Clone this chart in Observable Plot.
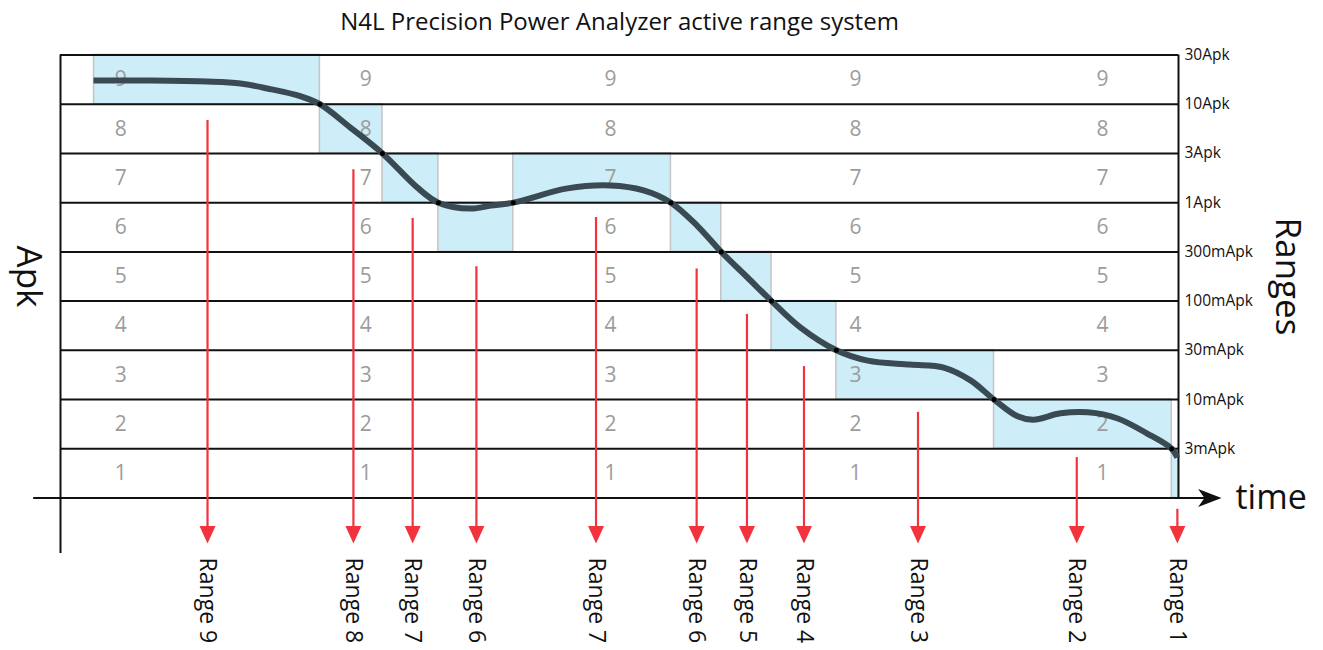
<!DOCTYPE html>
<html>
<head>
<meta charset="utf-8">
<script src="https://cdn.jsdelivr.net/npm/d3@7"></script>
<script src="https://cdn.jsdelivr.net/npm/@observablehq/plot@0.6"></script>
<style>
  html, body { margin: 0; padding: 0; background: #fff; }
  #chart svg { display: block; }
</style>
</head>
<body>
<div id="chart"></div>
<script>
// ---- data ----
const title = "N4L Precision Power Analyzer active range system";

// active range segments (time, range number)
const segStart = [3.0, 23.2, 28.8, 33.8, 40.5, 54.6, 59.1, 63.6, 69.4, 83.5, 99.4];
const segEnd   = [23.2, 28.8, 33.8, 40.5, 54.6, 59.1, 63.6, 69.4, 83.5, 99.4, 100];
const segRange = [9, 8, 7, 6, 7, 6, 5, 4, 3, 2, 1];

// signal curve (time, level on range scale)
const curveTime  = [2.95, 8.05, 13.15, 16.1, 18.5, 21.5, 23.2, 25.9, 28.8, 31.9, 33.8, 36.7, 38.5, 40.5, 45.35, 49.2, 52.15, 54.6, 57.0, 59.1, 61.45, 63.6, 66.2, 69.4, 72.2, 76.0, 79.0, 81.4, 83.5, 85.6, 87.0, 89.45, 91.9, 94.5, 97.2, 99.4, 99.9];
const curveLevel = [8.48, 8.48, 8.46, 8.42, 8.32, 8.16, 8.0, 7.53, 7.0, 6.31, 6.0, 5.88, 5.94, 6.0, 6.29, 6.35, 6.25, 6.0, 5.52, 5.0, 4.48, 4.0, 3.46, 3.0, 2.79, 2.71, 2.65, 2.39, 2.0, 1.66, 1.59, 1.72, 1.74, 1.62, 1.31, 1.0, 0.82];

// red arrows
const arrowTime  = [13.15, 26.2, 31.5, 37.2, 47.9, 56.9, 61.4, 66.5, 76.7, 90.9, 99.9];
const arrowTop   = [7.67, 6.67, 5.68, 4.70, 5.70, 4.65, 3.73, 2.67, 1.74, 0.82, -0.23];
const arrowLabel = ["Range 9", "Range 8", "Range 7", "Range 6", "Range 7", "Range 6", "Range 5", "Range 4", "Range 3", "Range 2", "Range 1"];

// range boundaries (right axis)
const boundaryLevel = [1, 2, 3, 4, 5, 6, 7, 8, 9];
const boundaryLabel = ["3mApk", "10mApk", "30mApk", "100mApk", "300mApk", "1Apk", "3Apk", "10Apk", "30Apk"];

// row numbers and the columns where they are repeated
const rowNumbers = [1, 2, 3, 4, 5, 6, 7, 8, 9];
const columnTime = [5.4, 27.3, 49.2, 71.1, 93.2];

// ---- derived tables ----
const segments = segRange.map((r, i) => ({x1: segStart[i], x2: segEnd[i], y1: r - 1, y2: r}));
const curve = curveTime.map((t, i) => ({t, v: curveLevel[i]}));
const crossings = segRange.slice(1).map((r, i) => ({t: segEnd[i], v: Math.min(r, segRange[i])}));
const arrows = arrowTime.map((t, i) => ({t, top: arrowTop[i], label: arrowLabel[i]}));
const cells = rowNumbers.flatMap(n => columnTime.map(t => ({t, v: n - 0.5, n})));

const tipLevel = -0.925;
const labelLevel = -1.21;

const downHead = { draw(ctx, size) { const r = Math.sqrt(size / Math.PI); ctx.moveTo(0, 0); ctx.lineTo(-r, -2.2 * r); ctx.lineTo(r, -2.2 * r); ctx.closePath(); } };
const rightHead = { draw(ctx, size) { const r = Math.sqrt(size / Math.PI); ctx.moveTo(0, 0); ctx.lineTo(-2.6 * r, -r); ctx.lineTo(-1.9 * r, 0); ctx.lineTo(-2.6 * r, r); ctx.closePath(); } };

const font = "'Open Sans', 'Noto Sans', sans-serif";
const red = "#f2323c";
const ink = "#111";

const chart = Plot.plot({
  width: 1323,
  height: 650,
  marginTop: 54.5,
  marginBottom: 152.5,
  marginLeft: 60,
  marginRight: 145,
  x: {domain: [0, 100], axis: null},
  y: {domain: [0, 9], axis: null},
  style: {fontFamily: font, background: "#fff", color: ink},
  marks: [
    // active range blocks
    Plot.rect(segments, {x1: "x1", x2: "x2", y1: "y1", y2: "y2", fill: "#cdedf8", stroke: "#c4c4c4", strokeWidth: 1.5}),
    // row numbers
    Plot.text(cells, {x: "t", y: "v", text: "n", fill: "#9c9c9c", fontSize: 21}),
    // horizontal range boundaries
    Plot.ruleY(boundaryLevel, {x1: 0, x2: 100, stroke: ink, strokeWidth: 2}),
    // time axis with arrow
    Plot.ruleY([0], {x1: -2.4, x2: 102.5, stroke: ink, strokeWidth: 2}),
    Plot.dot([0], {x: 103.85, y: 0, r: 9, symbol: rightHead, fill: ink, stroke: "none"}),
    // vertical axis lines
    Plot.ruleX([0], {y1: -1.13, y2: 9, stroke: ink, strokeWidth: 2}),
    Plot.ruleX([100], {y1: 0, y2: 9, stroke: ink, strokeWidth: 2}),
    // signal curve
    Plot.line(curve, {x: "t", y: "v", curve: "catmull-rom", stroke: "#3a4a53", strokeWidth: 6, strokeLinecap: "butt"}),
    Plot.dot(crossings, {x: "t", y: "v", r: 2.5, fill: "#000", stroke: "none"}),
    // red arrows
    Plot.ruleX(arrows, {x: "t", y1: "top", y2: tipLevel + 0.3, stroke: red, strokeWidth: 2.2}),
    Plot.dot(arrows, {x: "t", y: tipLevel, r: 8, symbol: downHead, fill: red, stroke: "none"}),
    Plot.text(arrows, {x: "t", y: labelLevel, text: "label", rotate: 90, textAnchor: "start", lineAnchor: "middle", fontSize: 23, fill: ink}),
    // right-hand range axis
    Plot.axisY({anchor: "right", ticks: boundaryLevel, tickFormat: d => boundaryLabel[boundaryLevel.indexOf(d)], tickSize: 0, tickPadding: 6, fontSize: 15.5, fill: ink}),
    // titles
    Plot.text([title], {frameAnchor: "top", dy: -32.5, textAnchor: "middle", lineAnchor: "middle", fontSize: 24, fill: ink}),
    Plot.text(["Apk"], {frameAnchor: "left", dx: -32, rotate: 90, textAnchor: "middle", lineAnchor: "middle", fontSize: 35, fill: ink}),
    Plot.text(["Ranges"], {frameAnchor: "right", dx: 109, rotate: 90, textAnchor: "middle", lineAnchor: "middle", fontSize: 35, fill: ink}),
    Plot.text(["time"], {frameAnchor: "bottom-right", dx: 57, dy: 0, textAnchor: "start", lineAnchor: "middle", fontSize: 34, fill: ink})
  ]
});
document.getElementById("chart").append(chart);
</script>
</body>
</html>
